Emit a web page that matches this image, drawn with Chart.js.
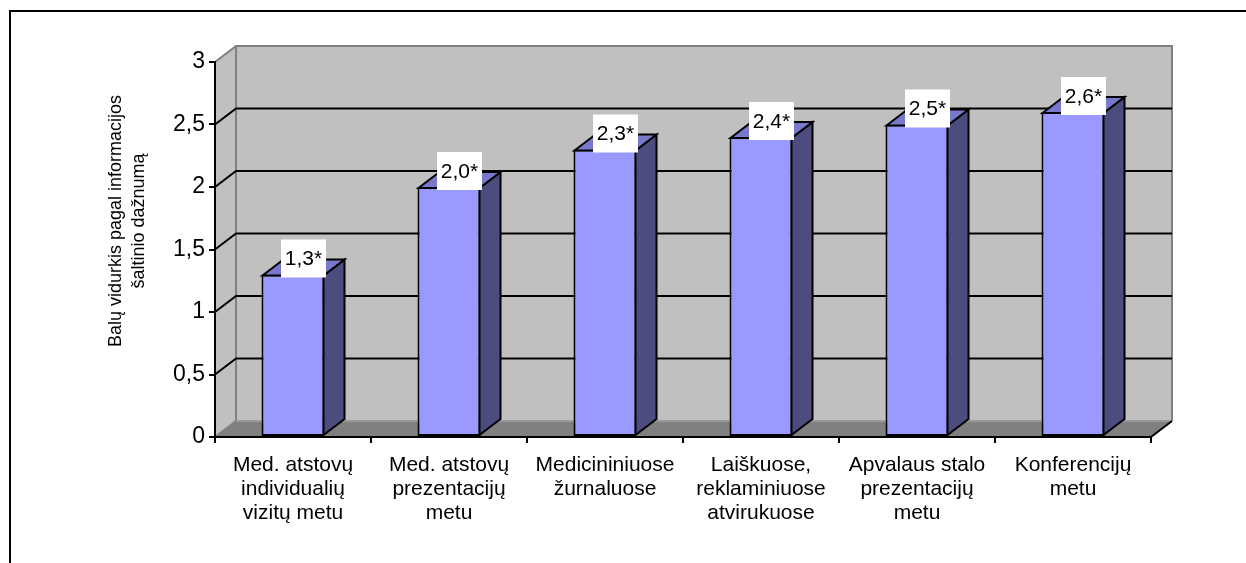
<!DOCTYPE html>
<html>
<head>
<meta charset="utf-8">
<script src="https://cdn.jsdelivr.net/npm/chart.js@4.4.1/dist/chart.umd.min.js"></script>
<style>
  html, body { margin: 0; padding: 0; background: #fff; }
  #wrap { position: relative; width: 1246px; height: 563px; overflow: hidden; }
  #frame { position: absolute; left: 9px; top: 10px; width: 1400px; height: 700px;
           border-top: 2px solid #000; border-left: 2px solid #000; }
  #c { position: absolute; left: 0; top: 0; }
</style>
</head>
<body>
<div id="wrap">
  <div id="frame"></div>
  <canvas id="c" width="1246" height="563"></canvas>
</div>
<script>
// Information sources (categories) and mean scores
const categories = [
  ['Med. atstovų', 'individualių', 'vizitų metu'],
  ['Med. atstovų', 'prezentacijų', 'metu'],
  ['Medicininiuose', 'žurnaluose'],
  ['Laiškuose,', 'reklaminiuose', 'atvirukuose'],
  ['Apvalaus stalo', 'prezentacijų', 'metu'],
  ['Konferencijų', 'metu']
];
const values = [1.3, 2.0, 2.3, 2.4, 2.5, 2.6];
const valueSuffix = '*';

const yTickValues = [0, 0.5, 1, 1.5, 2, 2.5, 3];
const yTickLabels = ['0', '0,5', '1', '1,5', '2', '2,5', '3'];
const axisTitle = ['Balų vidurkis pagal informacijos', 'šaltinio dažnumą'];

// Depth of the pseudo-3D box (pixels towards the back wall)
const DX = 21, DY = -16;
const FONT = '"Liberation Sans", Arial, sans-serif';

function poly(ctx, pts) {
  ctx.beginPath();
  ctx.moveTo(pts[0][0], pts[0][1]);
  for (let i = 1; i < pts.length; i++) ctx.lineTo(pts[i][0], pts[i][1]);
  ctx.closePath();
}

// Walls, floor and back-wall gridlines, painted before the axes
const wallsPlugin = {
  id: 'walls',
  beforeDraw(chart) {
    const { ctx, chartArea: a, scales: { y } } = chart;
    const L = a.left, R = a.right;
    const T = y.getPixelForValue(y.max), B = y.getPixelForValue(y.min);
    ctx.save();
    ctx.lineJoin = 'miter';
    // side wall
    ctx.fillStyle = '#c0c0c0';
    poly(ctx, [[L, T], [L + DX, T + DY], [L + DX, B + DY], [L, B]]);
    ctx.fill();
    // back wall
    ctx.fillRect(L + DX, T + DY, R - L, B - T);
    // floor
    ctx.fillStyle = '#808080';
    poly(ctx, [[L, B], [R, B], [R + DX, B + DY], [L + DX, B + DY]]);
    ctx.fill();
    // wall edges
    ctx.strokeStyle = '#808080';
    ctx.lineWidth = 2;
    ctx.beginPath();
    ctx.moveTo(L, T); ctx.lineTo(L + DX, T + DY);
    ctx.lineTo(R + DX, T + DY); ctx.lineTo(R + DX, B + DY);
    ctx.moveTo(L + DX, T + DY); ctx.lineTo(L + DX, B + DY);
    ctx.moveTo(L, B); ctx.lineTo(L + DX, B + DY);
    ctx.stroke();
    ctx.strokeStyle = '#9a9a9a';
    ctx.beginPath();
    ctx.moveTo(L + DX, B + DY); ctx.lineTo(R + DX, B + DY);
    ctx.stroke();
    // gridlines running over the side wall and the back wall
    ctx.strokeStyle = '#000';
    ctx.beginPath();
    yTickValues.forEach(v => {
      if (v <= y.min || v >= y.max) return;
      const py = y.getPixelForValue(v);
      ctx.moveTo(L, py); ctx.lineTo(L + DX, py + DY); ctx.lineTo(R + DX, py + DY);
    });
    // right edge of the floor
    ctx.moveTo(R, B); ctx.lineTo(R + DX, B + DY);
    ctx.stroke();
    ctx.restore();
  },
  afterDraw(chart) {
    const { ctx } = chart;
    ctx.save();
    ctx.fillStyle = '#000';
    ctx.font = '18px ' + FONT;
    ctx.textAlign = 'center';
    ctx.textBaseline = 'middle';
    ctx.translate(116, 221);
    ctx.rotate(-Math.PI / 2);
    axisTitle.forEach((line, i) => ctx.fillText(line, 0, i * 23));
    ctx.restore();
  }
};

// Side and top faces of each column plus the boxed value labels
const columnsPlugin = {
  id: 'columns3d',
  afterDatasetsDraw(chart) {
    const { ctx } = chart;
    const meta = chart.getDatasetMeta(0);
    const ds = chart.data.datasets[0];
    ctx.save();
    ctx.lineWidth = 2;
    ctx.strokeStyle = '#000';
    ctx.lineJoin = 'miter';
    meta.data.forEach((bar) => {
      const { x, y, base, width } = bar.getProps(['x', 'y', 'base', 'width'], true);
      const l = x - width / 2 + 1, r = x + width / 2 - 1;
      ctx.fillStyle = '#4c4c7e';
      poly(ctx, [[r, y + 1], [r + DX, y + 1 + DY], [r + DX, base - 1 + DY], [r, base - 1]]);
      ctx.fill(); ctx.stroke();
      ctx.fillStyle = '#7878cc';
      poly(ctx, [[l, y + 1], [l + DX, y + 1 + DY], [r + DX, y + 1 + DY], [r, y + 1]]);
      ctx.fill(); ctx.stroke();
    });
    // value labels
    ctx.font = '21px ' + FONT;
    ctx.textAlign = 'center';
    ctx.textBaseline = 'middle';
    meta.data.forEach((bar, i) => {
      const { x, y } = bar.getProps(['x', 'y'], true);
      const text = ds.data[i].toFixed(1).replace('.', ',') + valueSuffix;
      const w = 45, h = 38;
      const cx = x + DX / 2, bottom = y + 3;
      ctx.fillStyle = '#fff';
      ctx.fillRect(cx - w / 2, bottom - h, w, h);
      ctx.fillStyle = '#000';
      ctx.fillText(text, cx, bottom - h / 2 + 1);
    });
    ctx.restore();
  }
};

new Chart(document.getElementById('c'), {
  type: 'bar',
  data: {
    labels: categories,
    datasets: [{
      data: values,
      backgroundColor: '#9999ff',
      borderColor: '#000',
      borderWidth: 2,
      borderSkipped: false,
      categoryPercentage: 1,
      barPercentage: 0.404
    }]
  },
  options: {
    responsive: false,
    animation: false,
    layout: { padding: { left: 0, top: 62, right: 95, bottom: 0 } },
    plugins: { legend: { display: false }, tooltip: { enabled: false } },
    scales: {
      x: {
        afterFit(s) { s.height = 126; },
        grid: { offset: true, drawOnChartArea: false, drawTicks: true, tickLength: 6, color: '#000', lineWidth: 2 },
        border: { display: true, color: '#000', width: 2 },
        ticks: {
          autoSkip: false, maxRotation: 0, minRotation: 0, padding: 10,
          color: '#000', font: { family: FONT, size: 21, lineHeight: 1.143 }
        }
      },
      y: {
        min: 0, max: 3,
        afterFit(s) { s.width = 215; },
        afterBuildTicks(s) { s.ticks = yTickValues.map(v => ({ value: v })); },
        grid: { drawOnChartArea: false, drawTicks: true, tickLength: 6, color: '#000', lineWidth: 2 },
        border: { display: true, color: '#000', width: 2 },
        ticks: {
          padding: 4, color: '#000', font: { family: FONT, size: 23 },
          callback: (v) => yTickLabels[yTickValues.indexOf(v)]
        }
      }
    }
  },
  plugins: [wallsPlugin, columnsPlugin]
});
</script>
</body>
</html>
